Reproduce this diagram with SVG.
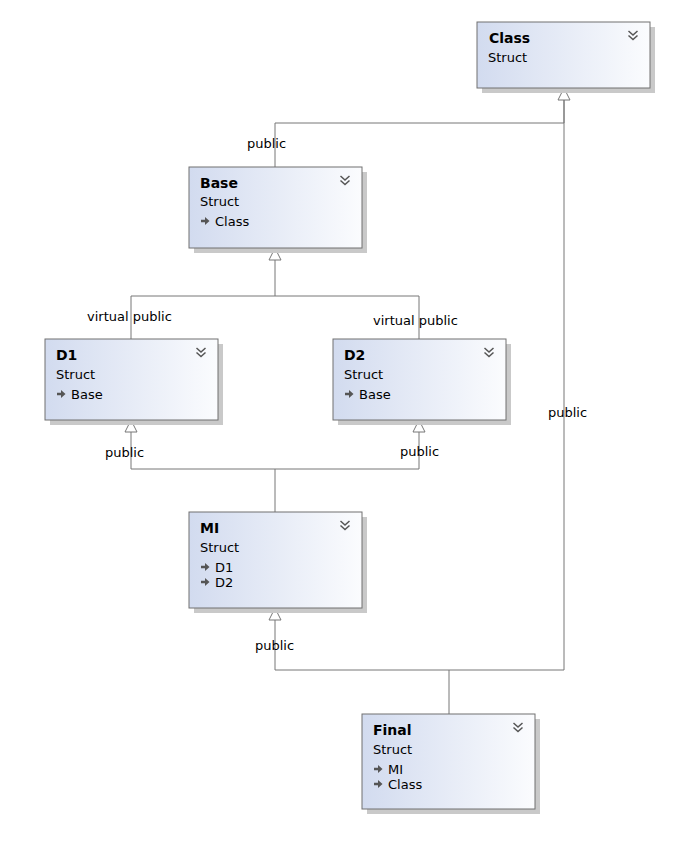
<svg xmlns="http://www.w3.org/2000/svg" width="684" height="845" viewBox="0 0 684 845">
<defs>
<linearGradient id="g" x1="0" y1="0" x2="1" y2="0">
<stop offset="0" stop-color="#d2dbef"/>
<stop offset="1" stop-color="#fbfcfe"/>
</linearGradient>
<style>
.sh{fill:#c9c9c9}
.bx{fill:url(#g);stroke:#707070;stroke-width:1}
.t{font-family:"DejaVu Sans",Verdana,sans-serif;font-size:14px;font-weight:bold;fill:#000}
.s{font-family:"DejaVu Sans",Verdana,sans-serif;font-size:13px;fill:#000}
.lb{font-family:"DejaVu Sans",Verdana,sans-serif;font-size:13px;fill:#000}
.ch{fill:none;stroke:#555;stroke-width:1.5}
.ar{fill:#555}
.ln{fill:none;stroke:#777;stroke-width:1}
.tri{fill:#fff;stroke:#777;stroke-width:1}
</style>
<g id="chev"><path class="ch" d="M-4.5,-5 L0,-1 L4.5,-5 M-4.5,-0.5 L0,3.5 L4.5,-0.5"/></g>
<g id="arr"><path class="ar" d="M0,-1.2 H4 V-4 L8.5,0 L4,4 V1.2 H0 Z"/></g>
</defs>
<rect width="684" height="845" fill="#fff"/>

<g id="connectors">
<path class="ln" d="M275,167 V123 H564 V100"/>
<path class="ln" d="M449,714 V670 H564 V100"/>
<path class="ln" d="M449,670 H275 V620"/>
<path class="ln" d="M131,339 V296 H419 V339 M275,296 V260"/>
<path class="ln" d="M275,512 V469 M131,432 V469 H419 V432"/>
<polygon class="tri" points="564,88 570,100 558,100"/>
<polygon class="tri" points="275,248 281,260 269,260"/>
<polygon class="tri" points="131,420 137,432 125,432"/>
<polygon class="tri" points="419,420 425,432 413,432"/>
<polygon class="tri" points="275,608 281,620 269,620"/>
<text class="lb" x="247" y="148">public</text>
<text class="lb" x="87" y="321">virtual public</text>
<text class="lb" x="373" y="325">virtual public</text>
<text class="lb" x="105" y="457">public</text>
<text class="lb" x="400" y="456">public</text>
<text class="lb" x="255" y="650">public</text>
<text class="lb" x="548" y="417">public</text>
</g>

<g id="Class">
<rect class="sh" x="482" y="27" width="173" height="66"/>
<rect class="bx" x="477" y="22" width="173" height="66"/>
<text class="t" x="489" y="43">Class</text>
<text class="s" x="488" y="62">Struct</text>
<use href="#chev" x="633" y="36"/>
</g>

<g id="Base">
<rect class="sh" x="194" y="172" width="173" height="81"/>
<rect class="bx" x="189" y="167" width="173" height="81"/>
<text class="t" x="200" y="188">Base</text>
<text class="s" x="200" y="206">Struct</text>
<use href="#arr" x="201" y="221"/>
<text class="s" x="215" y="226">Class</text>
<use href="#chev" x="345" y="181"/>
</g>

<g id="D1">
<rect class="sh" x="50" y="344" width="173" height="81"/>
<rect class="bx" x="45" y="339" width="173" height="81"/>
<text class="t" x="56" y="360">D1</text>
<text class="s" x="56" y="379">Struct</text>
<use href="#arr" x="57" y="394"/>
<text class="s" x="71" y="399">Base</text>
<use href="#chev" x="201" y="353"/>
</g>

<g id="D2">
<rect class="sh" x="338" y="344" width="173" height="81"/>
<rect class="bx" x="333" y="339" width="173" height="81"/>
<text class="t" x="344" y="360">D2</text>
<text class="s" x="344" y="379">Struct</text>
<use href="#arr" x="345" y="394"/>
<text class="s" x="359" y="399">Base</text>
<use href="#chev" x="489" y="353"/>
</g>

<g id="MI">
<rect class="sh" x="194" y="517" width="173" height="96"/>
<rect class="bx" x="189" y="512" width="173" height="96"/>
<text class="t" x="200" y="533">MI</text>
<text class="s" x="200" y="552">Struct</text>
<use href="#arr" x="201" y="567"/>
<text class="s" x="215" y="572">D1</text>
<use href="#arr" x="201" y="582"/>
<text class="s" x="215" y="587">D2</text>
<use href="#chev" x="345" y="526"/>
</g>

<g id="Final">
<rect class="sh" x="367" y="719" width="173" height="95"/>
<rect class="bx" x="362" y="714" width="173" height="95"/>
<text class="t" x="373" y="735">Final</text>
<text class="s" x="373" y="754">Struct</text>
<use href="#arr" x="374" y="769"/>
<text class="s" x="388" y="774">MI</text>
<use href="#arr" x="374" y="784"/>
<text class="s" x="388" y="789">Class</text>
<use href="#chev" x="518" y="728"/>
</g>
</svg>
